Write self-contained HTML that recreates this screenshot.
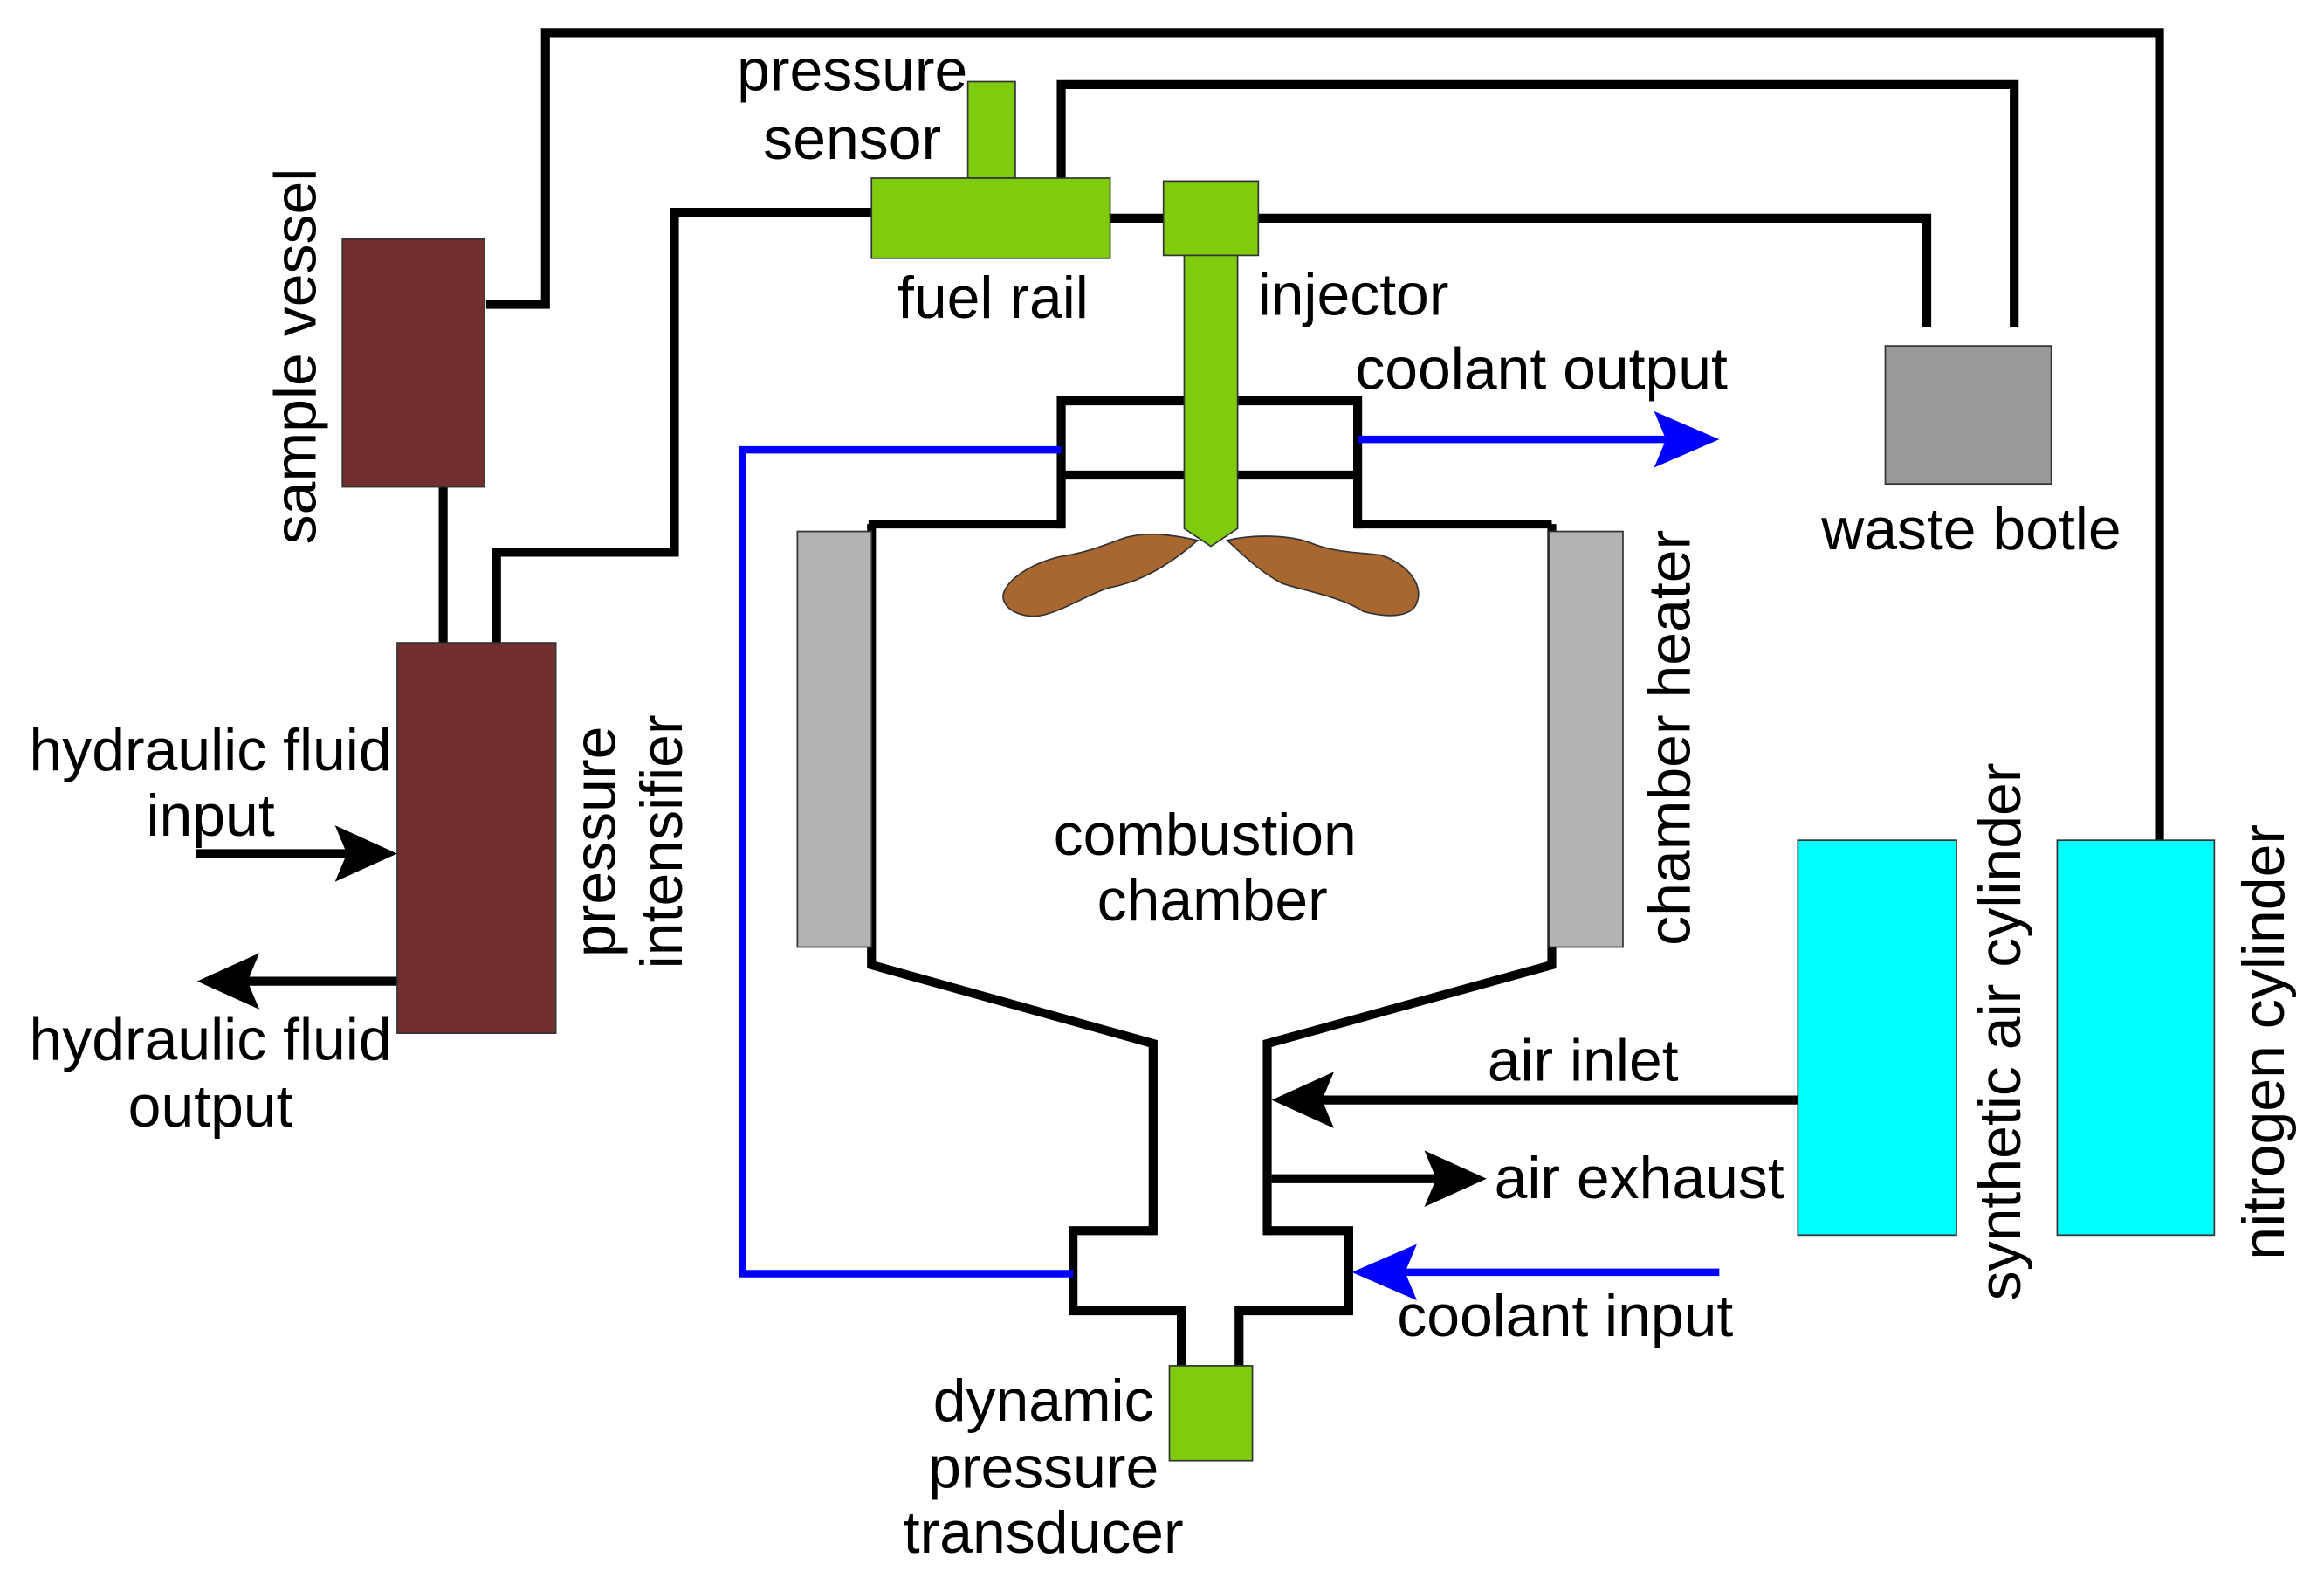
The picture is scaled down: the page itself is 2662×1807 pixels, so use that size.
<!DOCTYPE html>
<html><head><meta charset="utf-8"><style>html,body{margin:0;padding:0;background:#fff}svg{display:block}text{font-family:"Liberation Sans",sans-serif;font-size:40px;fill:#000}</style></head>
<body>
<svg width="2662" height="1807" viewBox="0 0 1568 1063" preserveAspectRatio="none" xmlns="http://www.w3.org/2000/svg">
<g fill="none" stroke="#000" stroke-width="6">
<polyline points="328,205 368,205 368,22 1457,22 1457,566"/>
<polyline points="716,120 716,57 1359,57 1359,220"/>
<polyline points="335,433 335,372 455,372 455,143 588,143"/>
<line x1="749" y1="147" x2="785" y2="147"/>
<polyline points="849,147 1300,147 1300,220"/>
<line x1="299" y1="328" x2="299" y2="433"/>
<polyline points="716,356 716,270 916,270 916,356"/>
<line x1="718" y1="320" x2="914" y2="320"/>
<polyline points="586,353 718,353"/>
<polyline points="914,353 1047,353"/>
<polyline points="588,353 588,650 778,703 778,832"/>
<polyline points="855,832 855,703 1047,650 1047,353"/>
<polyline points="778,829 724,829 724,883 797,883 797,922"/>
<polyline points="855,829 910,829 910,883 836,883 836,922"/>
<line x1="1213" y1="741" x2="885" y2="741"/>
<line x1="858" y1="794" x2="975" y2="794"/>
<line x1="132" y1="575" x2="240" y2="575"/>
<line x1="268" y1="661" x2="160" y2="661"/>
</g>
<g fill="#000">
<polygon points="858,741 900,722 892,741 900,760"/>
<polygon points="1003,794 961,775 969,794 961,813"/>
<polygon points="268,575 226,556 234,575 226,594"/>
<polygon points="133,661 175,642 167,661 175,680"/>
</g>
<g fill="none" stroke="#00f" stroke-width="5">
<polyline points="716,303 501,303 501,858 724,858"/>
<line x1="916" y1="296" x2="1125" y2="296"/>
<line x1="1160" y1="857" x2="945" y2="857"/>
</g>
<g fill="#00f">
<polygon points="1160,296 1116,277 1124,296 1116,315"/>
<polygon points="912,857 956,838 948,857 956,876"/>
</g>
<g stroke="#333" stroke-width="1">
<rect x="231" y="161" width="96" height="167" fill="#722F2F"/>
<rect x="268" y="433" width="107" height="263" fill="#722F2F"/>
<rect x="653" y="55" width="32" height="65" fill="#7FCC0F"/>
<rect x="588" y="120" width="161" height="54" fill="#7FCC0F"/>
<rect x="785" y="122" width="64" height="50" fill="#7FCC0F"/>
<polygon points="799,172 835,172 835,356 817,368 799,356" fill="#7FCC0F"/>
<rect x="789" y="920" width="56" height="64" fill="#7FCC0F"/>
<rect x="538" y="358" width="50" height="280" fill="#B3B3B3"/>
<rect x="1045" y="358" width="50" height="280" fill="#B3B3B3"/>
<rect x="1272" y="233" width="112" height="93" fill="#999"/>
<rect x="1213" y="566" width="107" height="266" fill="#00FFFF"/>
<rect x="1388" y="566" width="106" height="266" fill="#00FFFF"/>
<path d="M808,364 C790,360 775,358 760,362 C745,367 735,372 715,375 C695,380 680,390 677,400 C675,410 690,418 705,414 C720,410 735,400 748,396 C770,392 790,380 808,364 Z" fill="#A8672F"/>
<path d="M828,364 C845,360 870,360 885,366 C900,372 915,372 932,374 C950,380 962,395 955,408 C950,416 935,416 920,412 C905,402 880,398 865,393 C850,385 840,375 828,364 Z" fill="#A8672F"/>
</g>
<g text-anchor="middle">
<text x="575" y="61">pressure</text>
<text x="575" y="107">sensor</text>
<text x="670" y="214">fuel rail</text>
<text x="913" y="212">injector</text>
<text x="1040" y="262">coolant output</text>
<text x="1330" y="370">waste botle</text>
<text x="142" y="519">hydraulic fluid</text>
<text x="142" y="563">input</text>
<text x="142" y="714">hydraulic fluid</text>
<text x="142" y="759">output</text>
<text x="813" y="576">combustion</text>
<text x="818" y="620">chamber</text>
<text x="1068" y="728">air inlet</text>
<text x="1106" y="807">air exhaust</text>
<text x="1056" y="900">coolant input</text>
<text x="704" y="957">dynamic</text>
<text x="704" y="1002">pressure</text>
<text x="704" y="1046">transducer</text>
<text transform="translate(213,240) rotate(-90)">sample vessel</text>
<text transform="translate(415,567) rotate(-90)">pressure</text>
<text transform="translate(460,567) rotate(-90)">intensifier</text>
<text transform="translate(1140,497) rotate(-90)">chamber heater</text>
<text transform="translate(1363,695) rotate(-90)">synthetic air cylinder</text>
<text transform="translate(1541,702) rotate(-90)">nitrogen cylinder</text>
</g>
</svg>
</body></html>
